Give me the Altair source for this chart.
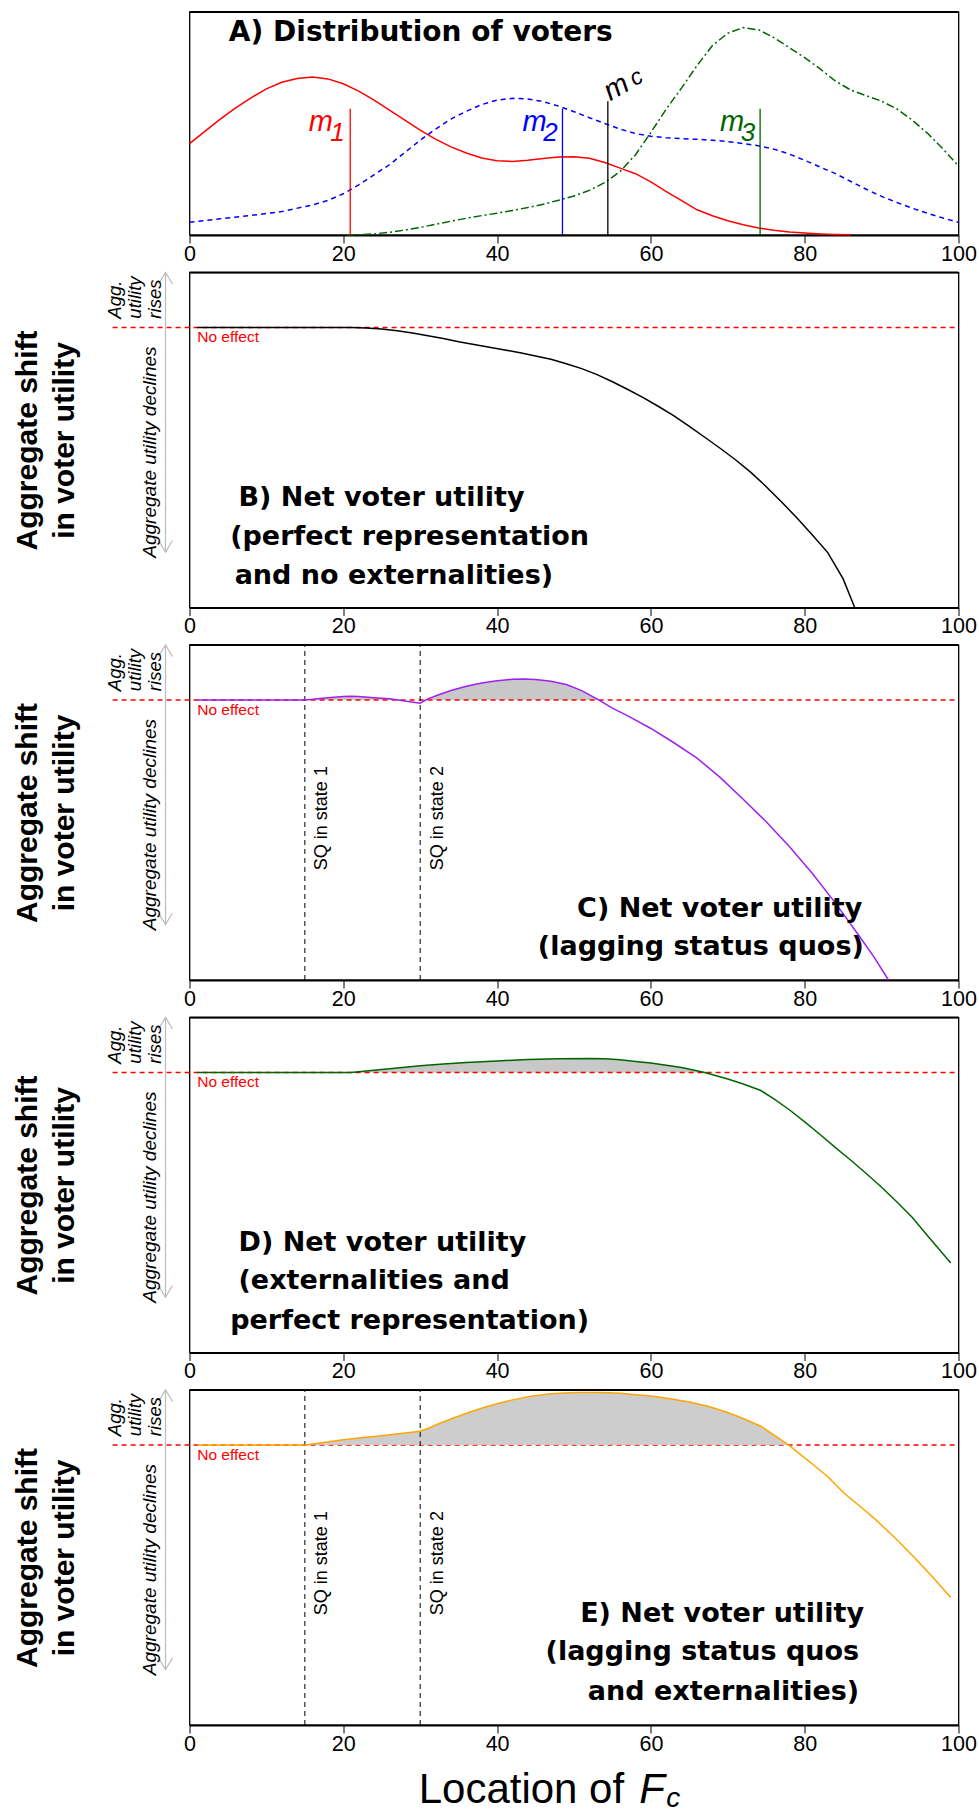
import altair as alt
import pandas as pd

# ---------------- Panel A : distribution of voters ----------------
a_red_x = [0, 2, 4, 6, 8, 10, 12, 14, 16, 18, 20, 22, 24, 26, 28, 30, 32, 34, 36, 38, 40, 42, 44, 46, 48, 50,
           52, 54, 56, 58, 60, 62, 64, 66, 68, 70, 72, 74, 76, 78, 80, 82, 84, 86]
a_red_v = [41, 46.5, 52, 57, 61.5, 65.5, 68.5, 70.2, 70.8, 70, 67.8, 64.5, 60.5, 56, 51.5, 47, 43, 39.5, 36.8,
           34.5, 33.3, 33, 33.5, 34.3, 35, 35.1, 34.4, 32.5, 30, 27.5, 23.8, 19.5, 15.4, 11.3, 8.6, 6.4, 4.6,
           3.1, 2.1, 1.4, 0.9, 0.5, 0.25, 0.1]
a_blue_x = [0, 4, 8, 12, 16, 18, 20, 22, 24, 26, 28, 30, 32, 34, 36, 38, 40, 42, 44, 46, 48, 50, 52, 54, 56,
            58, 60, 62, 64, 66, 68, 70, 72, 74, 76, 78, 80, 82, 84, 86, 88, 90, 92, 94, 96, 98, 100]
a_blue_v = [5.7, 7.3, 8.8, 10.5, 13.5, 15.5, 18.5, 22.5, 27, 31.5, 37, 42.5, 47.5, 52, 55.5, 58.5, 60.5, 61.3,
            61, 59.8, 57.8, 55.3, 52.6, 50, 47.5, 45.5, 44.3, 43.6, 43.2, 42.9, 42.5, 41.9, 41, 40, 38.5,
            36.3, 33.5, 30.5, 27.5, 24, 20.5, 17.3, 14.6, 12, 9.7, 7.6, 5.7]
a_green_x = [20.5, 22, 24, 26, 28, 30, 32, 34, 36, 38, 40, 42, 44, 46, 48, 50, 52, 54, 56, 58, 60, 62, 64, 66,
             68, 70, 72, 74, 76, 78, 80, 82, 84, 86, 88, 90, 92, 94, 96, 98, 100]
a_green_v = [0, 0.1, 0.5, 1.2, 2.2, 3.4, 4.8, 6.2, 7.5, 8.7, 9.8, 11, 12.3, 13.8, 15.6, 17.5, 20, 23.5, 28.5,
             36, 46, 56.5, 66, 76, 85, 90.5, 93, 92, 88.5, 84, 79.5, 74.5, 69, 65, 62.5, 60, 56.5, 51.5, 45.5,
             38.5, 31]

med_x = [20.9, 48.5, 54.4, 74.2]
med_top = [56.6, 56.6, 60.0, 56.6]
med_color = ["#FF0000", "#0000FF", "#000000", "#006400"]

# ---------------- Panels B-E : net voter utility ----------------
b_x = [1, 21, 23, 25, 27, 29, 31, 33, 35, 37, 39, 41, 43, 45, 47, 49, 51, 53, 55, 57, 59, 61, 63, 65, 67, 69,
       71, 73, 75, 77, 79, 81, 83, 85, 86.5]
b_y = [0, 0, -0.01, -0.03, -0.06, -0.1, -0.15, -0.2, -0.26, -0.31, -0.36, -0.41, -0.46, -0.52, -0.58, -0.66,
       -0.75, -0.86, -0.99, -1.13, -1.28, -1.44, -1.61, -1.8, -2.0, -2.2, -2.41, -2.64, -2.9, -3.18, -3.47,
       -3.78, -4.1, -4.58, -5.1]
c_x = [1, 15, 16, 18, 20, 21, 22, 24, 26, 28, 30, 31, 32.5, 34, 36, 38, 40, 42, 43.5, 45, 47, 49, 51, 53.2,
       55, 57, 60, 63, 66, 69, 72, 75, 78, 81, 84, 87, 89, 90.9]
c_y = [0, 0, 0.01, 0.04, 0.06, 0.065, 0.06, 0.04, 0.02, -0.02, -0.06, 0.02, 0.1, 0.17, 0.25, 0.31, 0.35, 0.375,
       0.38, 0.37, 0.34, 0.28, 0.17, 0, -0.15, -0.29, -0.52, -0.78, -1.06, -1.41, -1.81, -2.22, -2.67, -3.16,
       -3.7, -4.28, -4.68, -5.1]
d_x = [1, 21, 24, 27, 30, 33, 36, 40, 44, 48, 52, 54, 56, 58, 60, 62, 64, 67, 70, 72, 74.3, 76, 78, 80, 82,
       84, 86, 88, 90, 92, 94, 96, 99]
d_y = [0, 0, 0.04, 0.08, 0.12, 0.155, 0.18, 0.21, 0.235, 0.25, 0.255, 0.25, 0.23, 0.2, 0.17, 0.13, 0.09, 0,
       -0.12, -0.21, -0.33, -0.48, -0.68, -0.9, -1.13, -1.37, -1.6, -1.84, -2.09, -2.36, -2.64, -2.98, -3.47]
e_x = [1, 15, 17, 19.5, 22, 24.4, 27, 30, 31, 32.5, 34.5, 36.5, 38.5, 40, 42, 44.6, 47, 50.3, 53.6, 56, 58,
       60, 62.5, 65, 67.5, 69.8, 72, 74.3, 76, 77.9, 79.5, 81.2, 83, 85.2, 87.3, 89.3, 91.8, 94.2, 96.6, 99]
e_y = [0, 0, 0.035, 0.085, 0.125, 0.158, 0.2, 0.25, 0.3, 0.39, 0.5, 0.6, 0.69, 0.75, 0.82, 0.89, 0.93, 0.955,
       0.955, 0.94, 0.915, 0.89, 0.84, 0.78, 0.7, 0.6, 0.48, 0.34, 0.18, 0, -0.18, -0.37, -0.58, -0.89,
       -1.13, -1.37, -1.7, -2.04, -2.4, -2.78]

sq_x = [15, 30]
sq_labels = ["SQ in state 1", "SQ in state 2"]

titles = {
    "B": ["B) Net voter utility", "(perfect representation", "and no externalities)"],
    "C": ["C) Net voter utility", "(lagging status quos)"],
    "D": ["D) Net voter utility", "(externalities and", "perfect representation)"],
    "E": ["E) Net voter utility", "(lagging status quos", "and externalities)"],
}
title_x = {"B": [6.37, 5.29, 5.87], "C": [50.4, 45.3], "D": [6.37, 6.37, 5.29], "E": [50.8, 46.3, 51.8]}
title_y = {"B": [-3.26, -3.96, -4.67], "C": [-3.95, -4.64], "D": [-3.25, -3.95, -4.67],
           "E": [-3.22, -3.92, -4.65]}

NARROW = "Liberation Sans Narrow, Arial Narrow, Liberation Sans"

# ---------------- shared scales / axes ----------------
XS = alt.Scale(domain=[0, 100], nice=False, zero=False)
YS_A = alt.Scale(domain=[0, 100], nice=False, zero=False)
YS = alt.Scale(domain=[-5.1, 1.0], nice=False, zero=False)

XAX = alt.Axis(values=[0, 20, 40, 60, 80, 100], format="d", tickSize=8, tickColor="black", tickWidth=1,
               labelFontSize=21.5, labelFont="Liberation Sans", labelColor="black", labelPadding=0,
               domainColor="black", domainWidth=2, labelFlush=False, labelOverlap=False, grid=False,
               title=None)
YAX = alt.Axis(title=["Aggregate shift", "in voter utility"], titleFont="Liberation Sans", titleFontSize=30,
               titleFontWeight="bold", titleColor="black", titleLineHeight=37, titlePadding=110,
               labels=False, ticks=False, domain=False, grid=False, minExtent=0)

W = 769


def X(field="x"):
    return alt.X(f"{field}:Q", scale=XS, axis=XAX)


def YA(field="v"):
    return alt.Y(f"{field}:Q", scale=YS_A, axis=None)


def Y(field="y"):
    return alt.Y(f"{field}:Q", scale=YS, axis=YAX)


# ---------------- Panel A ----------------
def density(xs, vs, color, dash):
    df = pd.DataFrame({"x": xs, "v": vs})
    kw = dict(color=color, strokeWidth=1.5)
    if dash:
        kw["strokeDash"] = dash
    return alt.Chart(df).mark_line(**kw).encode(x=X(), y=YA())


med_df = pd.DataFrame({"x": med_x, "v0": [0] * 4, "v": med_top, "c": med_color})
med_rules = alt.Chart(med_df).mark_rule(strokeWidth=1.3).encode(
    x=X(), y=YA("v0"), y2="v:Q", color=alt.Color("c:N", scale=None))

lab_df = pd.DataFrame({"x": [15.5, 43.3, 69.0], "v": [46.6] * 3, "t": ["m"] * 3,
                       "c": ["#FF0000", "#0000FF", "#006400"]})
sub_df = pd.DataFrame({"x": [18.3, 46.0, 71.7], "v": [42.3] * 3, "t": ["1", "2", "3"],
                       "c": ["#FF0000", "#0000FF", "#006400"]})
m_labels = alt.Chart(lab_df).mark_text(font=NARROW, fontStyle="italic", fontSize=29,
                                        align="left", baseline="alphabetic").encode(
    x=X(), y=YA(), text="t:N", color=alt.Color("c:N", scale=None))
m_subs = alt.Chart(sub_df).mark_text(font=NARROW, fontStyle="italic", fontSize=26,
                                      align="left", baseline="alphabetic").encode(
    x=X(), y=YA(), text="t:N", color=alt.Color("c:N", scale=None))
mc_m = alt.Chart(pd.DataFrame({"x": [54.7], "v": [60.0], "t": ["m"]})).mark_text(
    font=NARROW, fontStyle="italic", fontSize=29, align="left", baseline="alphabetic",
    angle=330, color="black").encode(x=X(), y=YA(), text="t:N")
mc_c = alt.Chart(pd.DataFrame({"x": [57.9], "v": [66.6], "t": ["c"]})).mark_text(
    font=NARROW, fontStyle="italic", fontSize=23, align="left", baseline="alphabetic",
    angle=330, color="black").encode(x=X(), y=YA(), text="t:N")
a_title = alt.Chart(pd.DataFrame({"x": [5.12], "v": [87.2], "t": ["A) Distribution of voters"]})).mark_text(
    font="DejaVu Sans", fontWeight="bold", fontSize=28, align="left", baseline="alphabetic",
    color="black").encode(x=X(), y=YA(), text="t:N")
a_top = alt.Chart(pd.DataFrame({"x": [0], "x2": [100], "v": [100]})).mark_rule(
    color="black", strokeWidth=2).encode(x=X(), x2="x2:Q", y=YA())

panel_a = alt.layer(
    density(a_red_x, a_red_v, "#FF0000", None),
    density(a_blue_x, a_blue_v, "#0000FF", [5, 4]),
    density(a_green_x, a_green_v, "#006400", [8, 3, 2, 3]),
    med_rules, m_labels, m_subs, mc_m, mc_c, a_title, a_top,
).properties(width=W, height=223)


# ---------------- Panels B-E ----------------
def panel(key, xs, ys, color, fill, sq, fill_on_top=False, xlabel=False):
    df = pd.DataFrame({"x": xs, "y": ys})
    layers = []
    area = alt.Chart(df).transform_calculate(pos="max(datum.y, 0)", zero="0").mark_area(
        color="#C8C8C8", opacity=0.9 if fill_on_top else 1.0).encode(x=X(), y=Y("pos"), y2="zero:Q")
    red = alt.Chart(pd.DataFrame({"x": [-10], "x2": [100], "y": [0]})).mark_rule(
        color="#FF0000", strokeWidth=1.5, strokeDash=[5, 4]).encode(x=X(), x2="x2:Q", y=Y())
    if fill and not fill_on_top:
        layers.append(area)
    layers.append(red)
    if fill and fill_on_top:
        layers.append(area)
    if sq:
        sq_df = pd.DataFrame({"x": sq_x, "y0": [-5.1, -5.1], "y1": [1.0, 1.0]})
        layers.append(alt.Chart(sq_df).mark_rule(color="black", strokeWidth=1, strokeDash=[5, 4]).encode(
            x=X(), y=Y("y0"), y2="y1:Q"))
        sq_t = pd.DataFrame({"x": [v + 2.9 for v in sq_x], "y": [-3.1, -3.1], "t": sq_labels})
        layers.append(alt.Chart(sq_t).mark_text(font=NARROW, fontSize=18, angle=270,
                                                align="left", baseline="alphabetic", color="black").encode(
            x=X(), y=Y(), text="t:N"))
    layers.append(alt.Chart(df).mark_line(color=color, strokeWidth=1.5).encode(x=X(), y=Y()))
    # top border
    layers.append(alt.Chart(pd.DataFrame({"x": [0], "x2": [100], "y": [1.0]})).mark_rule(
        color="black", strokeWidth=2).encode(x=X(), x2="x2:Q", y=Y()))
    # "No effect" label
    layers.append(alt.Chart(pd.DataFrame({"x": [1.0], "y": [0], "t": ["No effect"]})).mark_text(
        font="Liberation Sans", fontSize=15.5, align="left", baseline="top", dy=3, color="#FF0000").encode(
        x=X(), y=Y(), text="t:N"))
    # gray double arrow
    layers.append(alt.Chart(pd.DataFrame({"x": [-3.12], "y0": [-4.09], "y1": [1.0]})).mark_rule(
        color="#BBBBBB", strokeWidth=1.2).encode(x=X(), y=Y("y0"), y2="y1:Q"))
    layers.append(alt.Chart(pd.DataFrame({"x": [-3.12], "y": [1.0]})).mark_point(
        shape="M-0.7,1.15L0,0L0.7,1.15", size=400, filled=False, opacity=1, color="#BBBBBB",
        strokeWidth=1.2).encode(x=X(), y=Y()))
    layers.append(alt.Chart(pd.DataFrame({"x": [-3.12], "y": [-4.09]})).mark_point(
        shape="M-0.7,-1.15L0,0L0.7,-1.15", size=400, filled=False, opacity=1, color="#BBBBBB",
        strokeWidth=1.2).encode(x=X(), y=Y()))
    rises = pd.DataFrame({"x": [-8.88, -6.28, -3.74], "y": [0.16] * 3, "t": ["Agg.", "utility", "rises"]})
    layers.append(alt.Chart(rises).mark_text(font=NARROW, fontStyle="italic", fontSize=18.5,
                                             angle=270, align="left", baseline="alphabetic",
                                             color="black").encode(x=X(), y=Y(), text="t:N"))
    layers.append(alt.Chart(pd.DataFrame({"x": [-4.33], "y": [-2.27],
                                          "t": ["Aggregate utility declines"]})).mark_text(
        font=NARROW, fontStyle="italic", fontSize=19, angle=270, align="center",
        baseline="alphabetic", color="black").encode(x=X(), y=Y(), text="t:N"))
    tdf = pd.DataFrame({"x": title_x[key], "y": title_y[key], "t": titles[key]})
    layers.append(alt.Chart(tdf).mark_text(font="DejaVu Sans", fontWeight="bold", fontSize=27,
                                           align="left", baseline="alphabetic", color="black").encode(
        x=X(), y=Y(), text="t:N"))
    if xlabel:
        layers.append(alt.Chart(pd.DataFrame({"x": [29.8], "y": [-6.52], "t": ["Location of"]})).mark_text(
            font="Liberation Sans", fontSize=42, align="left", baseline="alphabetic", color="black").encode(
            x=X(), y=Y(), text="t:N"))
        layers.append(alt.Chart(pd.DataFrame({"x": [58.5], "y": [-6.52], "t": ["F"]})).mark_text(
            font="Liberation Sans", fontSize=42, fontStyle="italic", align="left", baseline="alphabetic",
            color="black").encode(x=X(), y=Y(), text="t:N"))
        layers.append(alt.Chart(pd.DataFrame({"x": [62.0], "y": [-6.6], "t": ["c"]})).mark_text(
            font="Liberation Sans", fontSize=28, fontStyle="italic", align="left", baseline="alphabetic",
            color="black").encode(x=X(), y=Y(), text="t:N"))
    return alt.layer(*layers).properties(width=W, height=335)


panel_b = panel("B", b_x, b_y, "#000000", False, False)
panel_c = panel("C", c_x, c_y, "#A020F0", True, True)
panel_d = panel("D", d_x, d_y, "#006400", True, False)
panel_e = panel("E", e_x, e_y, "#FFA500", True, True, fill_on_top=True, xlabel=True)

chart = alt.vconcat(panel_a, panel_b, panel_c, panel_d, panel_e, spacing=37.5, bounds="flush").properties(
    padding={"left": 11.5, "top": 10, "right": 0, "bottom": 0}, background="white"
).configure_view(stroke="black", strokeWidth=1.3)

chart.save("out.html", embed_options={"renderer": "svg", "actions": False})
